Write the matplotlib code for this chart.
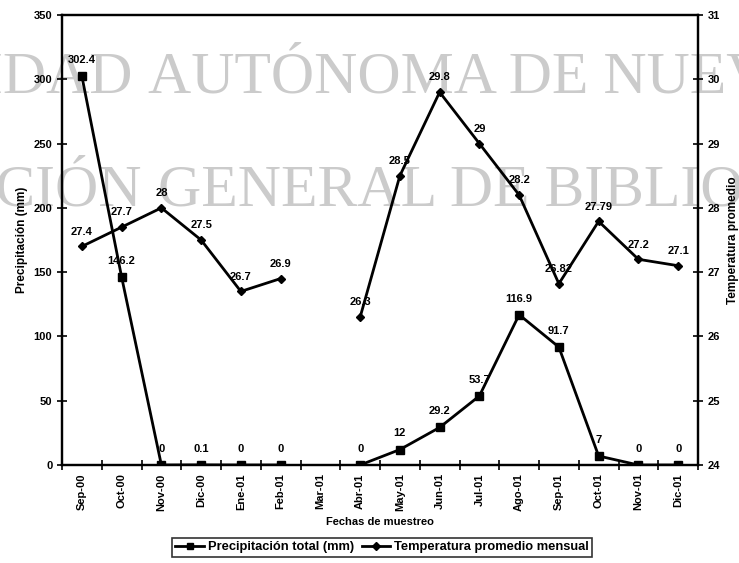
import numpy as np
import matplotlib
matplotlib.use("Agg")
import matplotlib.pyplot as plt
from matplotlib.lines import Line2D

plt.rcParams["font.family"] = ["Liberation Sans", "DejaVu Sans"]
plt.rcParams["font.weight"] = "bold"
plt.rcParams["axes.labelweight"] = "bold"
plt.rcParams["font.size"] = 8

meses = ["Sep-00", "Oct-00", "Nov-00", "Dic-00", "Ene-01", "Feb-01", "Mar-01", "Abr-01",
         "May-01", "Jun-01", "Jul-01", "Ago-01", "Sep-01", "Oct-01", "Nov-01", "Dic-01"]
precip = [302.4, 146.2, 0, 0.1, 0, 0, np.nan, 0, 12, 29.2, 53.7, 116.9, 91.7, 7, 0, 0]
precip_lab = ["302.4", "146.2", "0", "0.1", "0", "0", "", "0", "12", "29.2", "53.7",
              "116.9", "91.7", "7", "0", "0"]
temp = [27.4, 27.7, 28, 27.5, 26.7, 26.9, np.nan, 26.3, 28.5, 29.8, 29, 28.2, 26.82,
        27.79, 27.2, 27.1]
temp_lab = ["27.4", "27.7", "28", "27.5", "26.7", "26.9", "", "26.3", "28.5", "29.8", "29",
            "28.2", "26.82", "27.79", "27.2", "27.1"]

W, H = 739, 563
fig = plt.figure(figsize=(W / 100, H / 100), dpi=100)

# marca de agua del escaneo (detras de la grafica)
wm = dict(family="Liberation Serif", fontsize=43, color="#cbcbcb", weight="normal",
          va="baseline", zorder=-1)
fig.text(133 / W, 1 - 93 / H, "UNIVERSIDAD", ha="right", **wm)
fig.text(148 / W, 1 - 93 / H, "AUTÓNOMA DE NUEVO LEÓN", ha="left", **wm)
fig.text(142 / W, 1 - 205 / H, "DIRECCIÓN", ha="right", **wm)
fig.text(158 / W, 1 - 205 / H, "GENERAL DE BIBLIOTECAS", ha="left", **wm)

ax = fig.add_axes([62 / W, 1 - 465 / H, 636 / W, 450 / H])
ax.patch.set_alpha(0)
ax2 = ax.twinx()

x = np.arange(len(meses))
ax.plot(x, precip, color="black", lw=2, marker="s", ms=5.5, zorder=5)
ax2.plot(x, temp, color="black", lw=2, marker="D", ms=4.5, zorder=5)

for xi, v, s in zip(x, precip, precip_lab):
    if s:
        ax.annotate(s, (xi, v), xytext=(0, 8), textcoords="offset points",
                    ha="center", va="bottom", fontsize=8)
for xi, v, s in zip(x, temp, temp_lab):
    if s:
        ax2.annotate(s, (xi, v), xytext=(0, 7), textcoords="offset points",
                     ha="center", va="bottom", fontsize=8)

ax.set_xlim(-0.5, len(meses) - 0.5)
ax.set_ylim(0, 350)
ax2.set_ylim(24, 31)
ax.set_yticks(np.arange(0, 351, 50))
ax2.set_yticks(np.arange(24, 32, 1))
ax.set_xticks(x)
ax.set_xticklabels(meses, rotation=90)
ax.set_xticks(np.arange(-0.5, len(meses), 1), minor=True)
ax.tick_params(axis="x", which="major", length=0, pad=6)
ax.tick_params(axis="x", which="minor", direction="inout", length=7, width=1.2)
ax.tick_params(axis="y", direction="inout", length=7, width=1.2, labelsize=8)
ax2.tick_params(axis="y", direction="inout", length=7, width=1.2, labelsize=8)

for a in (ax, ax2):
    for sp in a.spines.values():
        sp.set_linewidth(1.6)

ax.set_ylabel("Precipitación (mm)", fontsize=8.5, labelpad=4)
ax2.set_ylabel("Temperatura promedio", fontsize=8.5, labelpad=5)
ax.set_xlabel("Fechas de muestreo", fontsize=8, labelpad=4)
ax2.yaxis.label.set_rotation(90)

handles = [Line2D([], [], color="black", lw=2, marker="s", ms=5),
           Line2D([], [], color="black", lw=2, marker="D", ms=4)]
leg = fig.legend(handles, ["Precipitación total (mm)", "Temperatura promedio mensual"],
                 loc="lower center", bbox_to_anchor=(382 / W, 0.0), ncol=2, frameon=True,
                 fancybox=False, edgecolor="black", fontsize=9.3, handlelength=2.2,
                 borderpad=0.25, columnspacing=0.6, handletextpad=0.3)
leg.get_frame().set_linewidth(1.2)

fig.savefig("out.png", dpi=100)
